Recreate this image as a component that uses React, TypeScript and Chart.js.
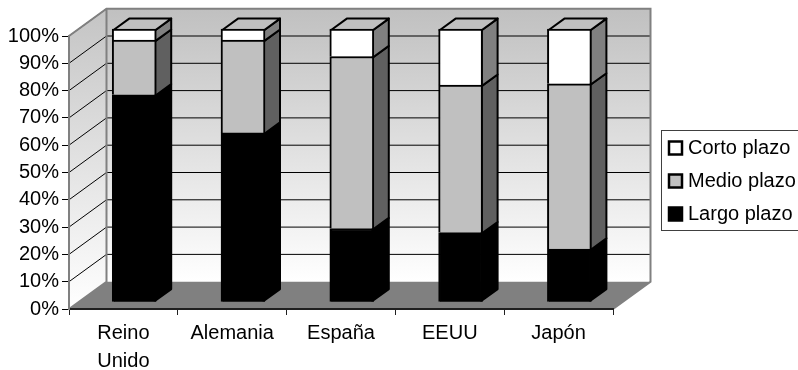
import React, { useEffect, useRef } from "react";
import { Chart, registerables } from "chart.js";

Chart.register(...registerables);

const categories = [["Reino", "Unido"], "Alemania", "España", "EEUU", "Japón"];
const largoPlazo = [76, 62, 27, 25.5, 19.5];
const medioPlazo = [20, 34, 63, 54, 60.5];
const cortoPlazo = [4, 4, 10, 20.5, 20];
const seriesNames = ["Largo plazo", "Medio plazo", "Corto plazo"];
const frontColors = ["#000000", "#c0c0c0", "#ffffff"];
const sideColors = ["#000000", "#606060", "#808080"];
const yTicks = [0, 10, 20, 30, 40, 50, 60, 70, 80, 90, 100];

const FONT = "'Liberation Sans', Arial, sans-serif";
const WALL_DX = 37.5;
const WALL_DY = 27.3;
const BAR_DX = 10.8;
const BAR_DY = 6.8;
const SIDE_DX = 16;
const SIDE_DY = 11.6;
const GREY = "#808080";

const depthPlugin = {
  id: "depth3d",
  beforeDraw(chart: any) {
    const { ctx, chartArea: a } = chart;
    const y = chart.scales.y;
    const grad = ctx.createLinearGradient(0, a.top - WALL_DY, 0, a.bottom - WALL_DY);
    grad.addColorStop(0, "#c0c0c0");
    grad.addColorStop(1, "#ffffff");
    ctx.save();
    const sideGrad = ctx.createLinearGradient(0, a.top - WALL_DY, 0, a.bottom);
    sideGrad.addColorStop(0, "#c4c4c4");
    sideGrad.addColorStop(1, "#ffffff");
    ctx.fillStyle = sideGrad;
    ctx.beginPath();
    ctx.moveTo(a.left, a.bottom);
    ctx.lineTo(a.left, a.top);
    ctx.lineTo(a.left + WALL_DX, a.top - WALL_DY);
    ctx.lineTo(a.left + WALL_DX, a.bottom - WALL_DY);
    ctx.closePath();
    ctx.fill();
    ctx.fillStyle = grad;
    ctx.fillRect(a.left + WALL_DX, a.top - WALL_DY, a.right - a.left, a.bottom - a.top);
    ctx.fillStyle = GREY;
    ctx.beginPath();
    ctx.moveTo(a.left, a.bottom);
    ctx.lineTo(a.left + WALL_DX, a.bottom - WALL_DY);
    ctx.lineTo(a.right + WALL_DX, a.bottom - WALL_DY);
    ctx.lineTo(a.right, a.bottom);
    ctx.closePath();
    ctx.fill();
    ctx.strokeStyle = "#000000";
    ctx.lineWidth = 1;
    for (const t of y.ticks) {
      if (t.value === 0) continue;
      const py = y.getPixelForValue(t.value);
      ctx.beginPath();
      ctx.moveTo(a.left, py);
      ctx.lineTo(a.left + WALL_DX, py - WALL_DY);
      if (t.value < 100) ctx.lineTo(a.right + WALL_DX, py - WALL_DY);
      ctx.stroke();
    }
    ctx.strokeStyle = GREY;
    ctx.lineWidth = 2;
    ctx.beginPath();
    ctx.moveTo(a.left, a.bottom);
    ctx.lineTo(a.left, a.top);
    ctx.lineTo(a.left + WALL_DX, a.top - WALL_DY);
    ctx.lineTo(a.right + WALL_DX, a.top - WALL_DY);
    ctx.lineTo(a.right + WALL_DX, a.bottom - WALL_DY);
    ctx.lineTo(a.right, a.bottom);
    ctx.moveTo(a.left + WALL_DX, a.top - WALL_DY);
    ctx.lineTo(a.left + WALL_DX, a.bottom - WALL_DY);
    ctx.lineTo(a.left, a.bottom);
    ctx.stroke();
    ctx.restore();
    const lg = chart.legend;
    lg.left = 655;
    lg.right = 798;
    lg.top = 125;
    lg.bottom = 370;
  },
  beforeDatasetsDraw(chart: any) {
    const { ctx } = chart;
    const n = chart.data.datasets.length;
    ctx.save();
    ctx.strokeStyle = "#000000";
    ctx.lineWidth = 2;
    ctx.lineJoin = "round";
    for (let d = 0; d < n; d++) {
      const bars = chart.getDatasetMeta(d).data;
      for (const b of bars) {
        const { x, y, base, width } = b.getProps(["x", "y", "base", "width"], true);
        const r = x + width / 2 - 1 + BAR_DX;
        const l = x - width / 2 + 1 + BAR_DX;
        const t = y + 1 - BAR_DY;
        const bt = base - BAR_DY + (d === 0 ? -1 : 1);
        ctx.fillStyle = sideColors[d];
        ctx.beginPath();
        ctx.moveTo(r, bt);
        ctx.lineTo(r + SIDE_DX, bt - SIDE_DY);
        ctx.lineTo(r + SIDE_DX, t - SIDE_DY);
        ctx.lineTo(r, t);
        ctx.closePath();
        ctx.fill();
        ctx.stroke();
        if (d === n - 1) {
          ctx.fillStyle = "#c0c0c0";
          ctx.beginPath();
          ctx.moveTo(l, t);
          ctx.lineTo(l + SIDE_DX, t - SIDE_DY);
          ctx.lineTo(r + SIDE_DX, t - SIDE_DY);
          ctx.lineTo(r, t);
          ctx.closePath();
          ctx.fill();
          ctx.stroke();
        }
      }
    }
    ctx.restore();
    ctx.save();
    ctx.translate(BAR_DX, -BAR_DY);
  },
  afterDatasetsDraw(chart: any) {
    chart.ctx.restore();
  },
  afterDraw(chart: any) {
    const { ctx } = chart;
    ctx.save();
    ctx.strokeStyle = "#404040";
    ctx.lineWidth = 1;
    ctx.strokeRect(661.5, 130.5, 145, 100);
    chart.legend.legendItems.forEach((item: any, i: number) => {
      const cy = 148 + i * 33;
      ctx.fillStyle = frontColors[item.datasetIndex];
      ctx.strokeStyle = "#000000";
      ctx.lineWidth = 2.5;
      ctx.fillRect(669, cy - 6.5, 13, 13);
      ctx.strokeRect(669, cy - 6.5, 13, 13);
    });
    ctx.restore();
  },
};

export default function App() {
  const ref = useRef<HTMLCanvasElement>(null);
  useEffect(() => {
    document.body.style.margin = "0";
    const series = [largoPlazo, medioPlazo, cortoPlazo];
    const chart = new Chart(ref.current!, {
      type: "bar",
      data: {
        labels: categories as any,
        datasets: series.map((data, i) => ({
          label: seriesNames[i],
          data,
          backgroundColor: frontColors[i],
          borderColor: "#000000",
          borderWidth: 2,
          barThickness: 44,
          clip: false as any,
        })),
      },
      options: {
        responsive: false,
        animation: false,
        layout: { padding: { top: 36, right: 185, left: 0, bottom: 0 } },
        plugins: {
          tooltip: { enabled: false },
          legend: {
            position: "chartArea" as any,
            align: "start",
            reverse: true,
            labels: {
              boxWidth: 10,
              boxHeight: 15,
              padding: 13,
              color: "#000000",
              font: { family: FONT, size: 20 },
              generateLabels(c: any) {
                return Chart.defaults.plugins.legend.labels.generateLabels(c).map((it: any) => ({
                  ...it,
                  fillStyle: "rgba(0,0,0,0)",
                  strokeStyle: "rgba(0,0,0,0)",
                  lineWidth: 0,
                }));
              },
            },
          },
        },
        scales: {
          x: {
            stacked: true,
            afterFit(s: any) {
              s.height = 61;
            },
            border: { color: "#202020", width: 2 },
            grid: { drawOnChartArea: false, tickColor: "#202020", tickLength: 6, tickWidth: 1 },
            ticks: {
              color: "#000000",
              autoSkip: false,
              maxRotation: 0,
              padding: 4,
              font: { family: FONT, size: 20, lineHeight: 1.4 },
            },
          },
          y: {
            stacked: true,
            min: 0,
            max: 100,
            afterFit(s: any) {
              s.width = 69;
            },
            afterBuildTicks(s: any) {
              s.ticks = yTicks.map((value) => ({ value }));
            },
            border: { color: GREY, width: 2 },
            grid: { drawOnChartArea: false, tickColor: "#000000", tickLength: 7, tickWidth: 1 },
            ticks: {
              color: "#000000",
              autoSkip: false,
              padding: 3,
              font: { family: FONT, size: 20 },
              callback: (v: any) => `${v}%`,
            },
          },
        },
      },
      plugins: [depthPlugin as any],
    });
    return () => chart.destroy();
  }, []);
  return (
    <div style={{ position: "fixed", left: 0, top: 0, width: 798, height: 370, overflow: "hidden" }}>
      <canvas ref={ref} width={798} height={370} style={{ display: "block" }} />
    </div>
  );
}
